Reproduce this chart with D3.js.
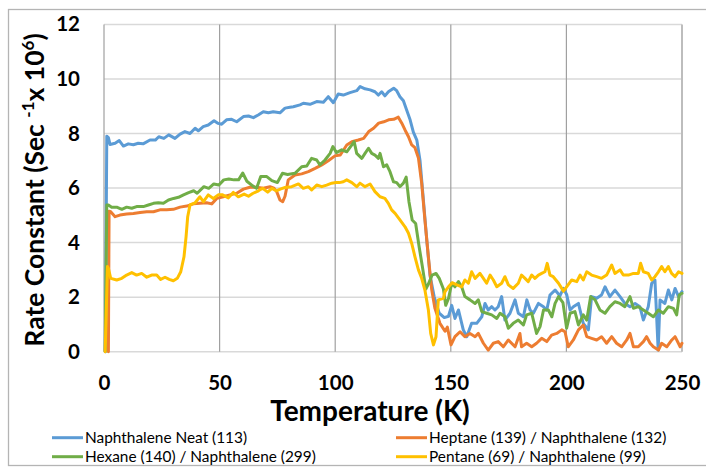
<!DOCTYPE html>
<html>
<head>
<meta charset="utf-8">
<script src="https://cdn.jsdelivr.net/npm/d3@7"></script>
<style>
  body { margin: 0; background: #fff; }
  text { font-family: Lato, "Open Sans", sans-serif; }
</style>
</head>
<body>
<div id="chart"></div>
<script>
// Temperature (K) / rate constant (x10^6 s^-1) pairs
const neat = [[0.6,0],[1.2,7.9],[1.9,7.85],[2.6,7.6],[4.8,7.64],[6.6,7.74],[8.4,7.54],[10.5,7.62],[12.7,7.59],[14.8,7.64],[16.9,7.62],[19.9,7.76],[22.2,7.76],[23.7,7.88],[25.9,7.82],[28.0,7.95],[30.7,7.82],[32.9,7.98],[35.0,8.07],[37.2,8.0],[39.4,8.19],[40.8,8.1],[42.9,8.25],[45.1,8.31],[47.6,8.47],[49.4,8.37],[50.9,8.34],[53.0,8.5],[55.2,8.52],[57.4,8.43],[60.3,8.62],[62.5,8.64],[64.6,8.58],[66.7,8.68],[68.9,8.8],[71.1,8.76],[73.2,8.8],[76.1,8.76],[78.3,8.93],[80.4,8.96],[81.9,8.98],[84.8,9.05],[86.2,9.11],[89.1,9.07],[92,9.17],[94.9,9.15],[97,9.35],[99.2,9.13],[101.3,9.45],[103.5,9.41],[106.4,9.5],[109.3,9.57],[110.8,9.72],[112.9,9.64],[115.1,9.6],[117.2,9.53],[118.7,9.41],[120.1,9.53],[121.5,9.38],[123,9.53],[125.3,9.66],[126.6,9.57],[128,9.35],[129.5,9.2],[130.9,8.86],[132.4,8.5],[133.8,8.05],[135.3,7.76],[136.7,7.0],[138.1,5.6],[139.6,4.1],[141,2.8],[142.8,2.02],[145,1.41],[147.2,1.25],[149,1.3],[150.4,1.7],[151.8,1.22],[153.3,1.53],[155.4,0.8],[156.9,0.55],[159,1.04],[161.2,1.04],[163.4,1.28],[164.8,1.77],[166.2,1.53],[167.7,1.65],[169.1,1.53],[170.5,1.65],[172,2.02],[173.4,1.16],[175.6,1.41],[177.8,1.9],[179.2,1.41],[181.4,1.28],[182.9,1.9],[184.3,1.53],[185.7,1.41],[187.9,1.77],[190.1,1.65],[191.5,1.53],[192.9,2.08],[195.1,2.26],[197.2,2.05],[198.7,2.32],[200.1,2.1],[201.6,1.53],[203,1.65],[205.2,1.77],[207.3,1.04],[209.5,0.8],[210.9,2.02],[213.1,1.96],[215.2,2.08],[216.7,2.38],[218.8,2.02],[221,2.26],[223.2,2.02],[225.3,1.77],[227.5,1.65],[229.7,1.77],[231.8,1.65],[233.3,1.16],[235.4,1.65],[236.9,2.51],[238.3,2.63],[239.7,0.06],[240.5,1.9],[242.6,1.77],[244.1,2.26],[245.6,1.9],[247,2.32],[248.5,2.02],[250,2.2]];

const heptane = [[1.9,0],[2.2,5.15],[2.9,5.13],[4.8,4.95],[6.9,5.01],[9.8,5.05],[12.7,5.07],[15.6,5.1],[18.5,5.13],[21.4,5.13],[24.2,5.2],[27.1,5.2],[30,5.22],[32.9,5.3],[35.8,5.34],[38.6,5.42],[41.5,5.44],[44.4,5.46],[46.6,5.42],[48.8,5.62],[51.6,5.68],[54.5,5.75],[57.4,5.81],[60.3,5.96],[63.1,6.03],[66,6.03],[68.9,5.99],[71.8,6.05],[73.5,6.0],[74.7,5.87],[76.1,5.56],[77.3,5.5],[78.3,5.7],[79.7,6.3],[82.6,6.48],[85.5,6.52],[88.4,6.6],[91.3,6.72],[94.2,6.85],[97,7.0],[99.9,7.18],[102.2,7.21],[105,7.58],[107.2,7.7],[110,7.76],[112.3,7.82],[114.5,8.07],[116.6,8.19],[118.8,8.38],[121,8.43],[123.1,8.5],[125.3,8.52],[127.3,8.6],[128.8,8.38],[130.2,8.13],[131.7,7.88],[133.1,7.58],[134.5,7.48],[136,7.1],[137.4,6.18],[138.8,4.83],[140.3,3.48],[141.7,2.3],[143.1,1.6],[145.3,1.04],[147.5,0.75],[148.5,0.9],[150.1,0.25],[151.8,0.55],[154,0.73],[156.1,0.55],[158.3,0.67],[160.5,0.55],[161.9,0.67],[164.1,0.31],[166.2,0.06],[168.4,0.31],[170.5,0.37],[172.7,0.18],[174.9,0.43],[177.8,0.18],[179.9,0.67],[180.6,0.18],[182.8,0.31],[185,0.18],[187.1,0.31],[189.3,0.49],[191.5,0.37],[193.6,0.61],[195.8,0.67],[198,0.8],[199.4,0.73],[200.8,0.18],[203,0.43],[205.2,0.8],[207.3,0.98],[208.8,0.55],[210.9,0.49],[213.1,0.43],[215.2,0.55],[217.4,0.31],[219.6,0.55],[221.7,0.31],[223.9,0.18],[226.1,0.43],[227.5,0.67],[229,0.18],[231.1,0.18],[233.3,0.37],[234.7,0.55],[236.2,0.31],[237.6,0.18],[239.8,0.06],[241.2,0.31],[243.4,0.18],[245.6,0.43],[247,0.55],[249.2,0.18],[250,0.31]];

const hexane = [[0.5,0],[1.2,5.38],[1.9,5.38],[3.3,5.3],[5.5,5.3],[7.7,5.22],[9.8,5.3],[12,5.26],[14.1,5.32],[17,5.32],[19.2,5.38],[21.4,5.44],[23.5,5.46],[25.7,5.44],[27.9,5.56],[30.1,5.62],[32.2,5.66],[34.4,5.75],[36.6,5.83],[38.8,5.9],[40.3,5.81],[43.2,6.05],[45.3,5.99],[47.5,6.15],[49.7,6.11],[51.8,6.3],[54,6.33],[56.2,6.3],[58.2,6.3],[60,6.55],[61.8,6.25],[64.3,6.08],[66,5.99],[67.8,6.42],[70.4,6.42],[72.6,6.27],[75,6.2],[77.2,6.54],[79.4,6.5],[82.6,6.54],[85.5,6.78],[87.7,6.81],[89.8,7.09],[92,7.03],[93.4,6.85],[95.6,7.03],[97.8,7.27],[99,7.52],[100.5,7.3],[102.8,7.4],[105,7.33],[107.2,7.58],[108.2,7.7],[109.3,7.27],[111.5,7.09],[112.9,7.27],[114.4,7.46],[115.8,7.27],[117.2,7.21],[118.7,7.09],[119.4,7.27],[120.9,6.78],[122.3,6.85],[123.7,6.6],[125.2,6.23],[126.6,6.2],[128,6.05],[129.5,6.18],[130.7,6.4],[131.9,5.5],[133.3,4.83],[134.8,4.7],[136.3,3.85],[137.7,3.12],[139.2,2.3],[140.3,2.48],[141.9,2.81],[143.6,2.87],[145,2.69],[146.8,2.3],[147.8,1.7],[149,1.95],[150.4,2.51],[151.8,2.38],[153.3,2.57],[154.7,2.38],[156.1,2.02],[158.3,1.9],[160.5,1.77],[161.9,1.9],[163.4,1.47],[165.5,1.41],[167.7,1.35],[169.9,1.22],[171.3,1.41],[173.4,1.28],[174.9,0.86],[177,1.04],[179.2,1.16],[181.4,0.98],[182.8,1.35],[185,1.41],[187.1,0.67],[188.6,0.92],[190.1,1.53],[192.2,1.53],[193.7,1.28],[195.1,1.77],[196.6,2.02],[198.5,1.8],[200.1,0.86],[201.6,1.41],[203.7,1.47],[205.2,0.98],[207.3,1.35],[208.8,1.16],[210.5,2.02],[212.4,1.9],[214.5,1.53],[216.7,1.41],[218.8,1.65],[221,1.83],[223.2,1.77],[225.3,1.65],[227.5,2.02],[229,1.59],[231.1,1.65],[233.3,1.53],[235.4,1.41],[237.6,1.28],[239.8,1.53],[241.9,1.41],[244.1,1.65],[246.3,1.59],[247.7,1.35],[248.8,2.08],[250,2.14]];

const pentane = [[0.5,0],[1.5,3.12],[1.9,3.06],[2.9,2.69],[5.5,2.63],[7.7,2.69],[9.8,2.81],[12,2.9],[14.1,2.81],[16.3,2.87],[18.5,2.73],[20.6,2.81],[22.8,2.81],[24.5,2.65],[26.4,2.73],[28.2,2.65],[30,2.6],[31.7,2.69],[33.2,2.93],[34.6,3.48],[35.5,4.22],[36.2,4.95],[37.2,5.38],[39.4,5.46],[41.5,5.68],[43,5.5],[45.1,5.75],[47.3,5.62],[49.4,5.75],[51.3,5.75],[53.8,5.64],[55.9,5.84],[58.1,5.68],[60.6,5.78],[62.5,5.7],[64.3,5.8],[66.8,5.9],[68.6,5.99],[70.8,5.85],[72.6,5.99],[74.5,5.9],[76.5,5.97],[78.3,6.02],[81.2,6.05],[84.1,6.15],[86.2,5.99],[88.4,6.05],[89.8,5.93],[92,6.11],[94.2,6.05],[96.3,6.11],[98.5,6.18],[100.3,6.2],[101.8,6.2],[103.5,6.23],[105,6.3],[107.2,6.2],[109.3,6.05],[110.7,6.18],[112.9,6.05],[115.1,6.15],[117.2,5.87],[119.4,5.68],[121.5,5.62],[123,5.44],[124.4,5.2],[125.9,5.07],[128,4.83],[130.2,4.58],[131.7,4.34],[133.1,3.97],[134.5,3.48],[136,3.0],[137.4,2.69],[138.8,2.26],[140.3,1.53],[141.3,0.67],[142.5,0.25],[143.6,0.55],[144.6,1.9],[146.8,1.96],[147.5,2.2],[149,2.38],[150.6,2.53],[152.6,2.45],[154.7,2.38],[156.1,2.63],[157.6,2.51],[159,2.93],[160.5,2.69],[162.6,2.87],[164.1,2.69],[165.5,2.51],[167,2.81],[168.4,2.63],[169.9,2.38],[172,2.51],[173.4,2.75],[174.9,2.45],[177,2.32],[179.2,2.51],[180.6,2.81],[182.1,2.69],[183.5,2.57],[185,2.81],[186.4,2.69],[187.9,2.81],[189.3,2.87],[190.7,2.93],[191.7,3.24],[192.9,2.81],[194.3,2.75],[196.6,2.51],[198.7,2.22],[200.1,2.38],[202.3,2.63],[204.5,2.57],[205.9,2.81],[207.3,2.63],[208.8,2.93],[210.9,2.81],[213.1,2.75],[215.2,2.69],[217.4,2.81],[219.6,3.18],[221,2.87],[223.2,3.0],[224.6,2.81],[226.8,2.81],[229,2.87],[231.1,2.87],[232.1,3.24],[233.3,2.93],[235.4,2.87],[236.9,2.63],[238.3,2.75],[239.8,2.93],[241.2,3.12],[242.6,2.93],[244.1,3.12],[245.5,2.87],[247,2.75],[248.5,2.93],[250,2.87]];

const seriesNames = ['Naphthalene Neat (113)', 'Heptane (139) / Naphthalene (132)', 'Hexane (140) / Naphthalene (299)', 'Pentane (69) / Naphthalene (99)'];
const xTicks = [0, 50, 100, 150, 200, 250];
const yTicks = [0, 2, 4, 6, 8, 10, 12];

const series = [neat, heptane, hexane, pentane];
const colors = ['#5b9bd5', '#ed7d31', '#70ad47', '#ffc000'];

const W = 706, H = 470;
const plot = { left: 104, right: 682, top: 24.4, bottom: 351.7 };

const svg = d3.select('#chart').append('svg')
    .attr('width', W)
    .attr('height', H);

// chart border
svg.append('rect')
    .attr('x', 8.5).attr('y', 9.5)
    .attr('width', 700).attr('height', 456)
    .attr('fill', '#fff')
    .attr('stroke', '#b4b4b4')
    .attr('stroke-width', 1.3);

const x = d3.scaleLinear().domain([0, 250]).range([plot.left, plot.right]);
const y = d3.scaleLinear().domain([0, 12]).range([plot.bottom, plot.top]);

// horizontal gridlines
svg.append('g')
    .selectAll('line')
    .data(yTicks)
    .join('line')
    .attr('x1', plot.left).attr('x2', plot.right)
    .attr('y1', d => y(d)).attr('y2', d => y(d))
    .attr('stroke', '#d9d9d9')
    .attr('stroke-width', 1.5);

// vertical gridlines
svg.append('g')
    .selectAll('line')
    .data(xTicks)
    .join('line')
    .attr('x1', d => x(d)).attr('x2', d => x(d))
    .attr('y1', plot.top).attr('y2', plot.bottom)
    .attr('stroke', d => d === 250 ? '#bdbdbd' : '#a0a0a0')
    .attr('stroke-width', d => d === 250 ? 2 : 1.2);

// axes (labels only, no domain or tick marks)
const yAxis = svg.append('g')
    .attr('transform', `translate(${plot.left - 24},0)`)
    .call(d3.axisLeft(y).tickValues(yTicks).tickSize(0).tickPadding(0));
yAxis.select('.domain').remove();
yAxis.selectAll('text')
    .attr('font-family', 'Lato, sans-serif')
    .attr('font-size', 20.5)
    .attr('font-weight', 700)
    .attr('fill', '#000');

const xAxis = svg.append('g')
    .attr('transform', `translate(0,${plot.bottom + 24})`)
    .call(d3.axisBottom(x).tickValues(xTicks).tickSize(0).tickPadding(0));
xAxis.select('.domain').remove();
xAxis.selectAll('text')
    .attr('font-family', 'Lato, sans-serif')
    .attr('font-size', 20.5)
    .attr('font-weight', 700)
    .attr('fill', '#000');

// data lines
const line = d3.line()
    .x(d => x(d[0]))
    .y(d => y(d[1]));

series.forEach((s, i) => {
    svg.append('path')
        .datum(s)
        .attr('fill', 'none')
        .attr('stroke', colors[i])
        .attr('stroke-width', 3)
        .attr('stroke-linejoin', 'round')
        .attr('stroke-linecap', 'round')
        .attr('d', line);
});

// axis titles
svg.append('text')
    .attr('x', 370)
    .attr('y', 421)
    .attr('text-anchor', 'middle')
    .attr('font-size', 28)
    .attr('font-weight', 700)
    .text('Temperature (K)');

const yTitle = svg.append('text')
    .attr('transform', `translate(44, 190) rotate(-90)`)
    .attr('text-anchor', 'middle')
    .attr('font-size', 26.5)
    .attr('font-weight', 700);
yTitle.append('tspan').text('Rate Constant (Sec ');
yTitle.append('tspan').attr('dy', -10).attr('font-size', 17).text('-1');
yTitle.append('tspan').attr('dy', 10).text('x 10');
yTitle.append('tspan').attr('dy', -10).attr('font-size', 17).text('6');
yTitle.append('tspan').attr('dy', 10).text(')');

// legend, two columns
const legendCols = [52, 396];
const legendRows = [437.7, 456.7];
seriesNames.forEach((name, i) => {
    const lx = legendCols[i % 2];
    const ly = legendRows[Math.floor(i / 2)];
    const g = svg.append('g');
    g.append('line')
        .attr('x1', lx).attr('x2', lx + 31)
        .attr('y1', ly).attr('y2', ly)
        .attr('stroke', colors[i])
        .attr('stroke-width', 3);
    g.append('text')
        .attr('x', lx + 33)
        .attr('y', ly)
        .attr('dy', '0.35em')
        .attr('font-size', 15.4)
        .attr('fill', '#000')
        .text(name);
});
</script>
</body>
</html>
